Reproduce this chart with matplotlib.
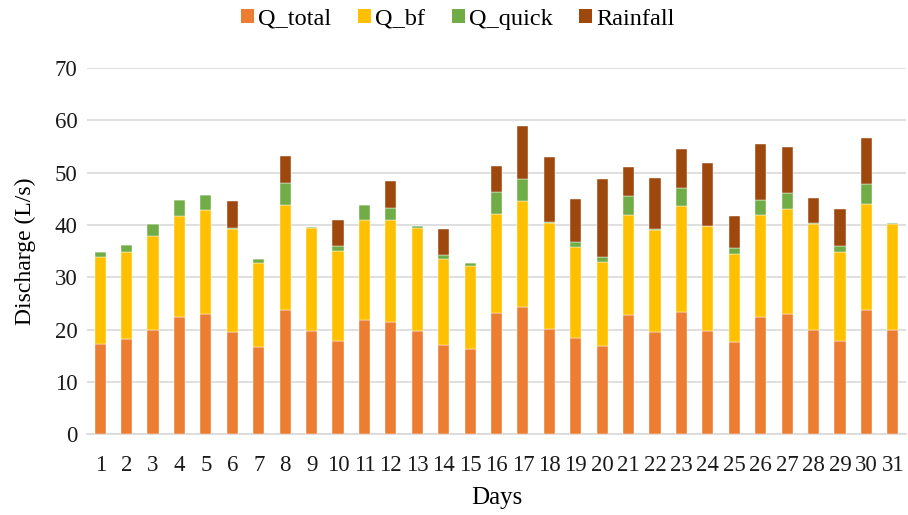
import matplotlib
matplotlib.use("Agg")
import matplotlib.pyplot as plt
from matplotlib.patches import Patch
import numpy as np

days = [str(i) for i in range(1, 32)]
q_total = [17.3, 18.1, 19.9, 22.3, 22.9, 19.6, 16.6, 23.8, 19.7, 17.9, 21.8, 21.5, 19.7, 17.0, 16.3,
           23.1, 24.4, 20.1, 18.3, 16.8, 22.7, 19.6, 23.4, 19.8, 17.7, 22.3, 22.9, 20.0, 17.9, 23.8, 20.0]
q_bf = [16.5, 16.7, 18.0, 19.4, 20.0, 19.6, 16.1, 20.0, 19.7, 17.1, 19.2, 19.5, 19.7, 16.4, 15.9,
        18.9, 20.2, 20.2, 17.4, 16.1, 19.2, 19.4, 20.2, 19.9, 16.8, 19.6, 20.2, 20.1, 16.9, 20.2, 20.1]
q_quick = [1.0, 1.4, 2.2, 3.0, 2.9, 0.2, 0.7, 4.2, 0.2, 0.9, 2.8, 2.2, 0.4, 0.9, 0.6,
           4.3, 4.2, 0.2, 1.1, 1.0, 3.6, 0.3, 3.5, 0.1, 1.0, 2.9, 3.0, 0.2, 1.2, 3.8, 0.2]
rainfall = [0, 0, 0, 0, 0, 5.1, 0, 5.1, 0, 5.0, 0, 5.1, 0, 5.0, 0,
            4.9, 10.1, 12.4, 8.2, 14.9, 5.5, 9.7, 7.5, 12.1, 6.2, 10.6, 8.8, 4.9, 7.0, 8.8, 0]

series = [("Q_total", q_total, "#ED7D31"), ("Q_bf", q_bf, "#FFC000"),
          ("Q_quick", q_quick, "#70AD47"), ("Rainfall", rainfall, "#9E480E")]

plt.rcParams['font.family'] = ['Liberation Serif', 'DejaVu Serif']

fig = plt.figure(figsize=(9.08, 5.15), dpi=100)
ax = fig.add_axes([0.0958, 0.157, 0.902, 0.711])

x = np.arange(len(days))
bottom = np.zeros(len(days))
handles = []
for name, vals, col in series:
    v = np.array(vals, dtype=float)
    ax.bar(x, v, 0.42, bottom=bottom, color=col, edgecolor="white", linewidth=0.3, zorder=3)
    bottom += v
    handles.append(Patch(facecolor=col, label=name))

ax.set_xlim(-0.5, len(days) - 0.5)
ax.set_ylim(0, 70)
ax.set_yticks(range(0, 71, 10))
ax.set_xticks(x)
ax.set_xticklabels(days)
ax.grid(axis="y", color="#d9d9d9", linewidth=1.2, zorder=0)
for s in ["top", "right", "left"]:
    ax.spines[s].set_visible(False)
ax.spines["bottom"].set_color("#d9d9d9")
ax.spines["bottom"].set_linewidth(1.2)
ax.tick_params(axis="both", length=0, labelsize=16.5, colors="#1a1a1a")
ax.tick_params(axis="y", pad=7)
ax.tick_params(axis="x", pad=15)
ax.set_xlabel("Days", fontsize=18, labelpad=8)
ax.set_ylabel("Discharge (L/s)", fontsize=17, labelpad=13)

fig.legend(handles=handles, loc="center", bbox_to_anchor=(0.504, 0.963), ncol=4, frameon=False,
           fontsize=17.5, handlelength=0.55, handleheight=0.55, handletextpad=0.15, columnspacing=1.1)

fig.savefig("out.png", dpi=100)
